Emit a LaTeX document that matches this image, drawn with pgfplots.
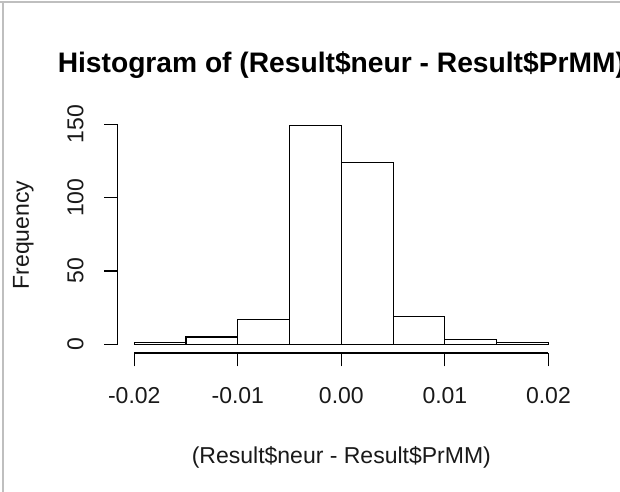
\documentclass[border=0pt]{standalone}
\usepackage{pgfplots}
\pgfplotsset{compat=1.18}
\usepackage{fontspec}
\setmainfont{Liberation Sans}
\begin{document}
\begin{tikzpicture}
\path[use as bounding box] (-117.7bp,-139bp) rectangle (502.3bp,353bp);
\fill[white] (-117.7bp,-139bp) rectangle (502.3bp,353bp);
\draw[black!25, line width=1.6bp] (-117.7bp,351bp) -- (502.3bp,351bp);
\draw[black!25, line width=1.6bp] (-114.4bp,-139bp) -- (-114.4bp,351bp);
\begin{axis}[
  at={(0,0)}, anchor=south west,
  scale only axis, width=447.3bp, height=236bp,
  xmin=-0.0216, xmax=0.0216, ymin=-5.96, ymax=154.96,
  axis x line*=bottom, axis y line*=left,
  axis line style={draw=none},
  scaled x ticks=false, scaled y ticks=false,
  xtick={-0.02,-0.01,0,0.01,0.02},
  xticklabels={-0.02,-0.01,0.00,0.01,0.02},
  ytick={0,50,100,150}, yticklabels={0,50,100,150},
  tick align=outside, major tick length=13.4bp,
  tick style={black, line width=1.2bp},
  ticklabel style={font=\fontsize{23bp}{27bp}\selectfont, text=black!90},
  xticklabel style={anchor=base, yshift=-36.6bp},
  yticklabel style={xshift=-20.8bp, rotate=90, anchor=base},
  xlabel={(Result\$neur - Result\$PrMM)},
  ylabel={Frequency},
  xlabel style={at={(axis description cs:0.5,-0.4661)}, anchor=base, font=\fontsize{23bp}{27bp}\selectfont, text=black!90},
  ylabel style={at={(axis description cs:-0.1983,0.5)}, anchor=base, font=\fontsize{23bp}{27bp}\selectfont, text=black!90},
  title={Histogram of (Result\$neur - Result\$PrMM)},
  title style={at={(axis description cs:0.5,1.1653)}, anchor=base, font=\bfseries\fontsize{28.2bp}{32bp}\selectfont},
  clip=false,
]
\addplot[ybar interval, fill=white, draw=black, line width=1.2bp] coordinates {
  (-0.020,1) (-0.015,5) (-0.010,17) (-0.005,149) (0.000,124) (0.005,19) (0.010,3) (0.015,1) (0.020,1)
};
\draw[black, line width=1.1bp] (axis cs:-0.02,-5.96) -- (axis cs:0.02,-5.96);
\draw[black, line width=1.1bp] (axis cs:-0.0216,0) -- (axis cs:-0.0216,150);
\end{axis}
\end{tikzpicture}
\end{document}
